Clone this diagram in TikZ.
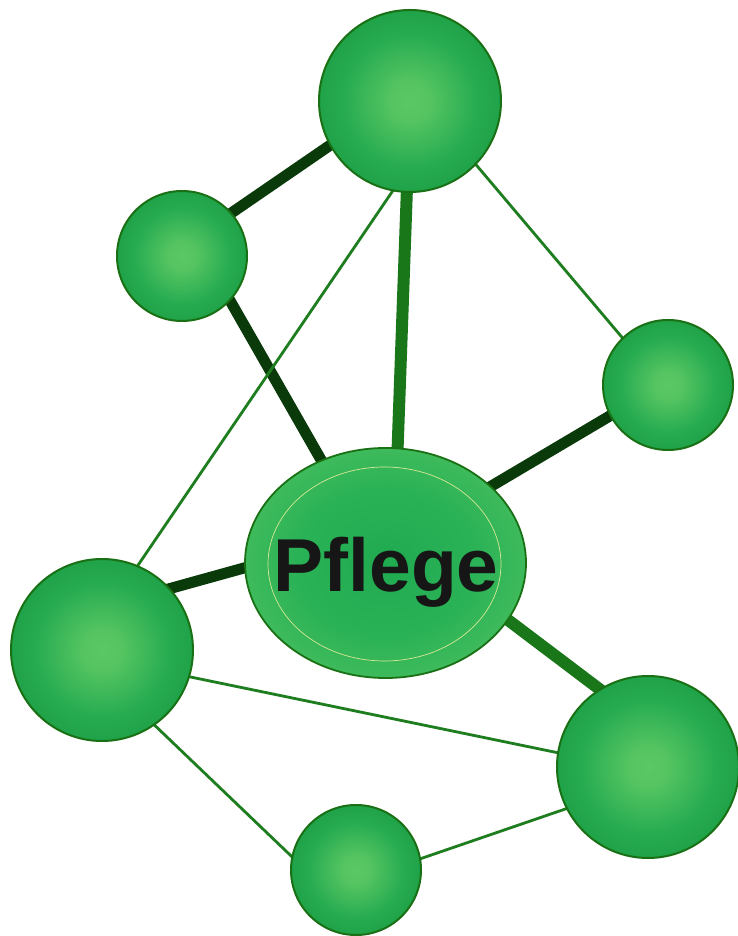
\documentclass[tikz,border=0pt]{standalone}
\usepackage{fontspec}
\setmainfont{Liberation Sans}
\usetikzlibrary{shapes.geometric,backgrounds}
\definecolor{dk}{RGB}{10,58,10}
\definecolor{md}{RGB}{25,118,25}
\definecolor{tn}{RGB}{30,125,30}
\definecolor{rim}{RGB}{26,112,20}
\definecolor{txt}{RGB}{22,22,22}
\definecolor{innerline}{RGB}{215,232,150}
\pgfdeclareradialshading{sph}{\pgfpoint{0bp}{0bp}}{%
  color(0bp)=(rgb,255:red,90;green,200;blue,100);
  color(5bp)=(rgb,255:red,86;green,197;blue,97);
  color(18bp)=(rgb,255:red,40;green,172;blue,82);
  color(32bp)=(rgb,255:red,22;green,152;blue,62);
  color(44bp)=(rgb,255:red,20;green,140;blue,50);
  color(50bp)=(rgb,255:red,24;green,124;blue,36)}
\pgfdeclareradialshading{ellsh}{\pgfpoint{0bp}{0bp}}{%
  color(0bp)=(rgb,255:red,32;green,170;blue,80);
  color(16bp)=(rgb,255:red,42;green,178;blue,86);
  color(40bp)=(rgb,255:red,96;green,201;blue,100);
  color(50bp)=(rgb,255:red,100;green,205;blue,102)}
\tikzset{
  sphere/.style={circle, inner sep=0pt, shading=sph, draw=rim, line width=2pt},
  bigsph/.style={sphere, minimum size=182pt},
  smallsph/.style={sphere, minimum size=130pt},
  darkedge/.style={draw=dk, line width=11pt, shorten <=-5pt, shorten >=-5pt},
  midedge/.style={draw=md, line width=12pt, shorten <=-5pt, shorten >=-5pt},
  thinedge/.style={draw=tn, line width=2.8pt, shorten <=-3pt, shorten >=-3pt}
}
\begin{document}
\begin{tikzpicture}[x=1pt,y=1pt]
\useasboundingbox (0,0) rectangle (737,936);
% spheres
\node[bigsph] (top) at (410,835) {};
\node[smallsph] (ul) at (182,680) {};
\node[smallsph] (right) at (668,551) {};
\node[bigsph] (left) at (102,286) {};
\node[bigsph] (lr) at (648,169) {};
\node[smallsph] (bot) at (356,66) {};
% central ellipse
\node[ellipse, inner sep=0pt, minimum width=281pt, minimum height=230pt,
      shading=ellsh, draw=rim, line width=1.8pt] (ell) at (385.5,373) {};
\node[ellipse, inner sep=0pt, minimum width=233pt, minimum height=194pt,
      draw=innerline, line width=0.7pt] (inner) at (384.5,372) {};
\node[anchor=base, inner sep=0pt, text=txt,
      font=\bfseries\fontsize{75}{75}\selectfont] (label) at (386,344) {Pflege};
% connectors
\begin{pgfonlayer}{background}
\fill[white] (0,0) rectangle (737,936);
\path[darkedge] (top.209.7) -- (ul.41.3);
\path[darkedge] (ul.-43.7) -- (ell.122.2);
\path[darkedge] (right.208) -- (ell.36.7);
\path[darkedge] (left.42.4) -- (ell.182);
\path[midedge] (top.268.7) -- (ell.84);
\path[midedge] (ell.-25.9) -- (lr.122);
\path[thinedge] (top.259.2) -- (left.67.5);
\path[thinedge] (top.-44.6) -- (right.134.4);
\path[thinedge] (left.-17) -- (lr.171.6);
\path[thinedge] (left.-55.5) -- (bot.168.5);
\path[thinedge] (bot.10.6) -- (lr.207.6);
\end{pgfonlayer}
\end{tikzpicture}
\end{document}
